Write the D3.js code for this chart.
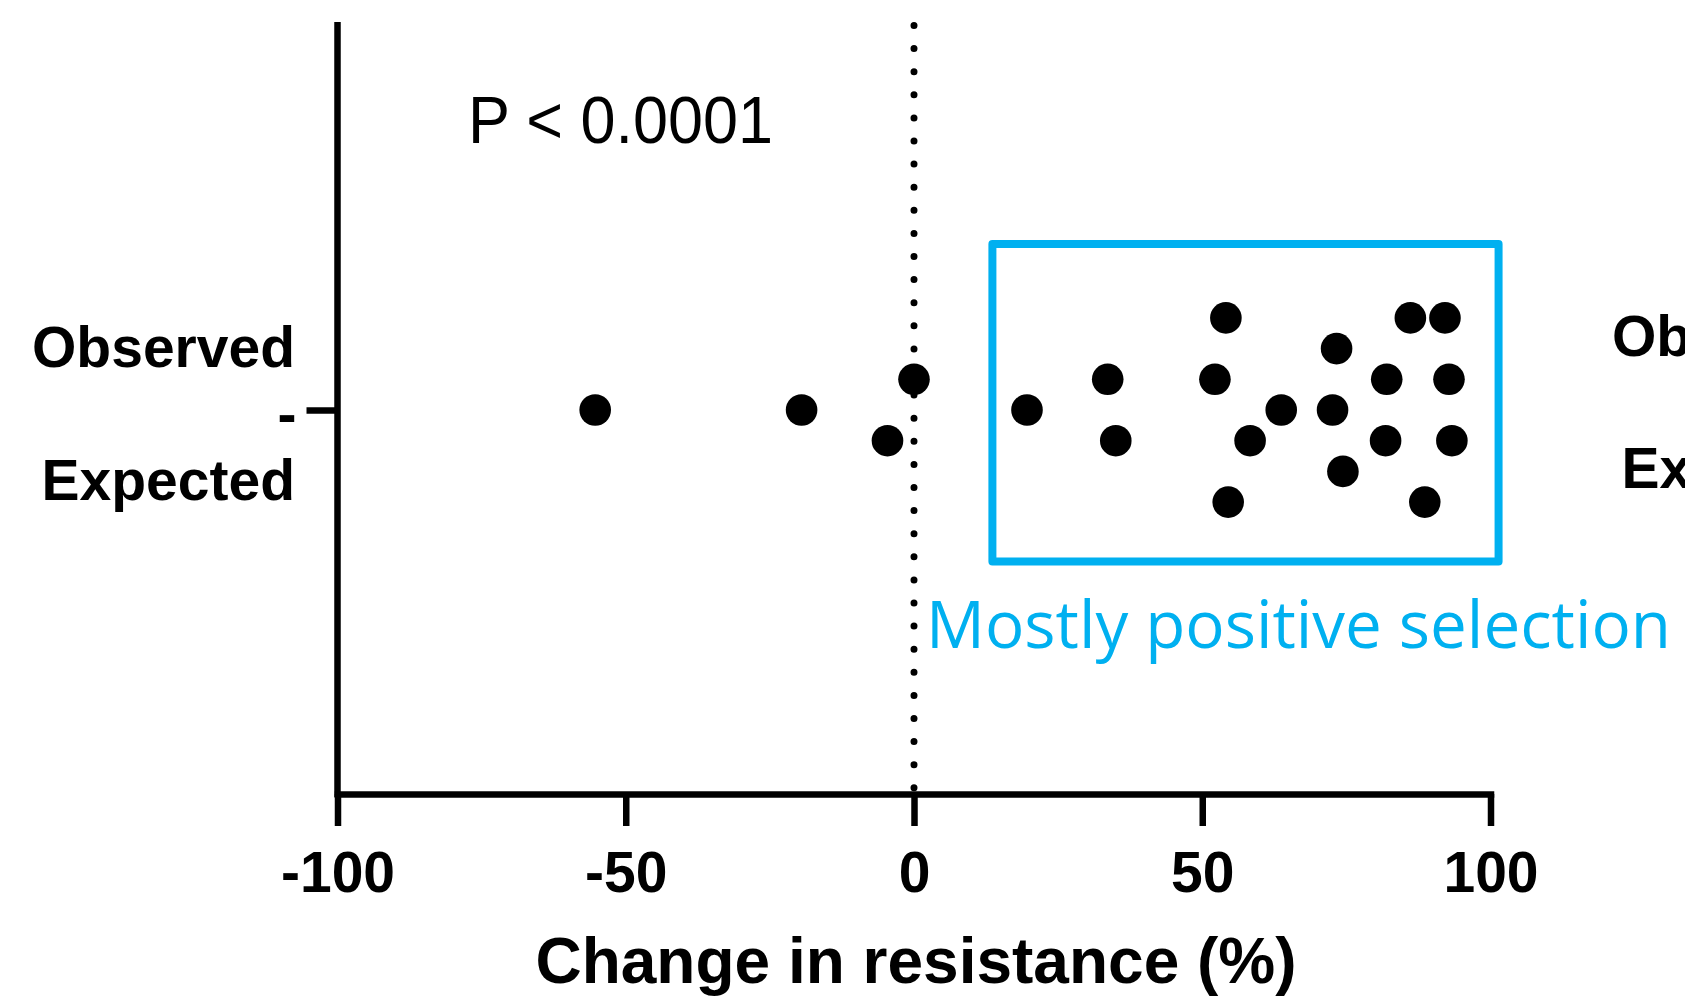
<!DOCTYPE html>
<html>
<head>
<meta charset="utf-8">
<script src="https://cdn.jsdelivr.net/npm/d3@7"></script>
<style>
  html, body { margin: 0; padding: 0; background: #ffffff; }
  svg { display: block; }
</style>
</head>
<body>
<svg id="chart" width="1685" height="997"></svg>
<script>
// ---- data ----
const categories = ["-"];
const groupLabels = ["Observed", "Expected"];
const changeValues = [-55.3, -19.5, -4.6, 0, 19.6, 33.6, 35.0, 52.2, 54.1, 54.5, 58.3,
                      63.7, 72.6, 73.3, 74.4, 81.8, 82.0, 86.1, 88.6, 92.1, 92.8, 93.3];
// stacking lane of each point in the column scatter (0 = centre line)
const swarmRows = [0, 0, 1, -1, 0, -1, 1, -1, -3, 3, 1,
                   0, 0, -2, 2, 1, -1, -3, 3, -3, -1, 1];
const xTickValues = [-100, -50, 0, 50, 100];
const xTickLabels = ["-100", "-50", "0", "50", "100"];
const xDomain = [-100, 100];
const highlightRange = [13.6, 101.4];
const pValueText = "P < 0.0001";
const highlightText = "Mostly positive selection";
const xTitle = "Change in resistance (%)";

// ---- layout ----
const svg = d3.select("#chart");
const plot = { left: 337.5, right: 1490.5, top: 22, bottom: 794 };
const boldFont = "'Liberation Sans', Arial, Helvetica, sans-serif";
const blue = "#00B0F0";
const axisWidth = 6.5;

const x = d3.scaleLinear().domain(xDomain).range([plot.left, plot.right]);
const yCat = d3.scalePoint().domain(categories).range([26, plot.bottom]);
const rowOffset = d3.scaleLinear().domain([-1, 1]).range([-30.7, 30.7]);

const points = changeValues.map((v, i) => ({ value: v, row: swarmRows[i], cat: categories[0] }));

// zero reference line (dotted)
svg.append("line")
  .attr("x1", x(0)).attr("x2", x(0))
  .attr("y1", 25.5).attr("y2", plot.bottom)
  .attr("stroke", "#000")
  .attr("stroke-width", 7)
  .attr("stroke-linecap", "round")
  .attr("stroke-dasharray", "0 23.1");

// highlight box
svg.append("rect")
  .attr("x", x(highlightRange[0]))
  .attr("y", 244)
  .attr("width", x(highlightRange[1]) - x(highlightRange[0]))
  .attr("height", 561.5 - 244)
  .attr("fill", "none")
  .attr("stroke", blue)
  .attr("stroke-width", 8)
  .attr("stroke-linejoin", "round");

svg.append("text")
  .attr("x", 926)
  .attr("y", 648)
  .attr("font-family", "'Open Sans', 'Noto Sans', sans-serif")
  .attr("font-size", 65)
  .attr("fill", blue)
  .attr("textLength", 745)
  .attr("lengthAdjust", "spacingAndGlyphs")
  .text(highlightText);

// x axis
const xAxis = d3.axisBottom(x)
  .tickValues(xTickValues)
  .tickFormat((d, i) => xTickLabels[i])
  .tickSize(32)
  .tickSizeOuter(0);

const gx = svg.append("g")
  .attr("transform", `translate(0,${plot.bottom})`)
  .call(xAxis);
gx.select(".domain")
  .attr("stroke", "#000")
  .attr("stroke-width", axisWidth)
  .attr("stroke-linecap", "square");
gx.selectAll(".tick line")
  .attr("stroke", "#000")
  .attr("stroke-width", axisWidth);
gx.selectAll(".tick text")
  .attr("y", 98)
  .attr("dy", null)
  .attr("font-family", boldFont)
  .attr("font-weight", "bold")
  .attr("font-size", 57)
  .attr("fill", "#000");

// y axis (single category)
const yAxis = d3.axisLeft(yCat)
  .tickSize(31)
  .tickSizeOuter(0)
  .tickPadding(10);

const gy = svg.append("g")
  .attr("transform", `translate(${plot.left},0)`)
  .call(yAxis);
gy.select(".domain").remove();
gy.append("line")
  .attr("x1", 0).attr("x2", 0)
  .attr("y1", plot.top).attr("y2", plot.bottom + axisWidth / 2)
  .attr("stroke", "#000")
  .attr("stroke-width", axisWidth);
gy.selectAll(".tick line")
  .attr("stroke", "#000")
  .attr("stroke-width", axisWidth);
gy.selectAll(".tick text")
  .attr("font-family", boldFont)
  .attr("font-weight", "bold")
  .attr("font-size", 57)
  .attr("fill", "#000")
  .attr("dy", "0.42em");

// group labels, left and right of the plot
const labelStyle = sel => sel
  .attr("font-family", boldFont)
  .attr("font-weight", "bold")
  .attr("font-size", 57)
  .attr("fill", "#000")
  .attr("text-anchor", "end");

svg.append("text").call(labelStyle).attr("x", 295).attr("y", 367).text(groupLabels[0]);
svg.append("text").call(labelStyle).attr("x", 295).attr("y", 500).text(groupLabels[1]);
svg.append("text").call(labelStyle).attr("x", 1875).attr("y", 356).text(groupLabels[0]);
svg.append("text").call(labelStyle).attr("x", 1875).attr("y", 488).text(groupLabels[1]);

// points
svg.append("g")
  .selectAll("circle")
  .data(points)
  .join("circle")
  .attr("cx", d => x(d.value))
  .attr("cy", d => yCat(d.cat) + rowOffset(d.row))
  .attr("r", 15.8)
  .attr("fill", "#000");

// p-value annotation
svg.append("text")
  .attr("x", 468)
  .attr("y", 143)
  .attr("font-family", "'Liberation Sans', Arial, sans-serif")
  .attr("font-size", 67)
  .attr("fill", "#000")
  .attr("textLength", 305)
  .attr("lengthAdjust", "spacingAndGlyphs")
  .text(pValueText);

// x axis title
svg.append("text")
  .attr("x", (plot.left + plot.right) / 2 + 2)
  .attr("y", 983)
  .attr("text-anchor", "middle")
  .attr("font-family", boldFont)
  .attr("font-weight", "bold")
  .attr("font-size", 64)
  .attr("fill", "#000")
  .text(xTitle);
</script>
</body>
</html>
